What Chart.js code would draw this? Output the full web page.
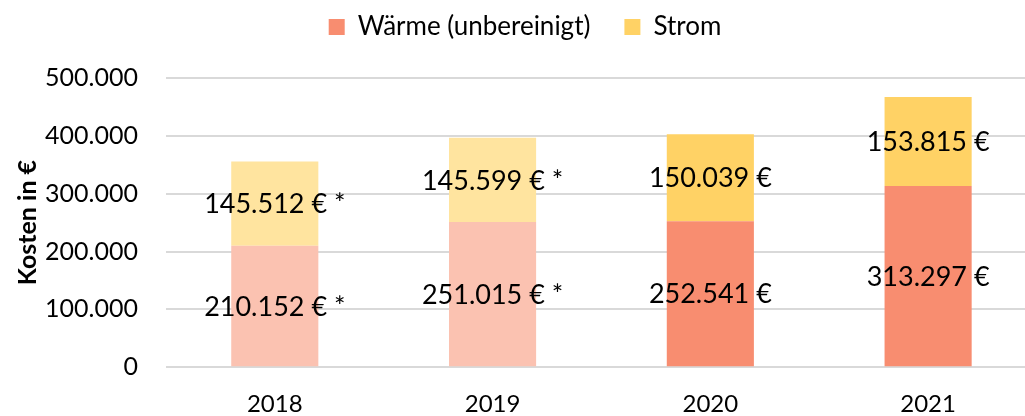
<!DOCTYPE html>
<html lang="de">
<head>
<meta charset="utf-8">
<title>Kosten Wärme und Strom</title>
<script src="https://cdn.jsdelivr.net/npm/chart.js@4/dist/chart.umd.min.js"></script>
<style>
  html, body { margin: 0; padding: 0; background: #fff; overflow: hidden; }
  #wrap { position: relative; width: 1037px; height: 416px; }
</style>
</head>
<body>
<div id="wrap"><canvas id="costChart"></canvas></div>
<script>
// Chart data
const years = ["2018", "2019", "2020", "2021"];
const waerme = [210152, 251015, 252541, 313297];
const strom = [145512, 145599, 150039, 153815];
// years marked with * (lighter bars)
const estimated = [true, true, false, false];

const waermeColors = ["#FBC2B1", "#FBC2B1", "#F88D70", "#F88D70"];
const stromColors = ["#FFE49F", "#FFE49F", "#FFD265", "#FFD265"];

// German thousands separator
function fmt(value) {
  return String(Math.round(value)).replace(/\B(?=(\d{3})+(?!\d))/g, ".");
}

// Draw value labels centered in each bar segment
const segmentLabels = {
  id: "segmentLabels",
  afterDatasetsDraw(chart) {
    const ctx = chart.ctx;
    ctx.save();
    ctx.font = "27px Lato";
    ctx.fillStyle = "#000";
    ctx.textAlign = "center";
    ctx.textBaseline = "middle";
    chart.data.datasets.forEach(function (ds, i) {
      const meta = chart.getDatasetMeta(i);
      meta.data.forEach(function (bar, j) {
        const text = fmt(ds.data[j]) + " €" + (estimated[j] ? " *" : "");
        const y = (bar.y + bar.base) / 2;
        ctx.fillText(text, bar.x, y + 1);
      });
    });
    ctx.restore();
  },
};

// Extra space below the legend
const legendGap = {
  id: "legendGap",
  beforeInit(chart) {
    const origFit = chart.legend.fit;
    chart.legend.fit = function () {
      origFit.bind(chart.legend)();
      this.height += 28;
    };
  },
};

new Chart(document.getElementById("costChart"), {
  type: "bar",
  data: {
    labels: years,
    datasets: [
      {
        label: "Wärme (unbereinigt)",
        data: waerme,
        backgroundColor: waermeColors,
        barPercentage: 0.8,
        categoryPercentage: 0.5,
      },
      {
        label: "Strom",
        data: strom,
        backgroundColor: stromColors,
        barPercentage: 0.8,
        categoryPercentage: 0.5,
      },
    ],
  },
  options: {
    responsive: true,
    maintainAspectRatio: false,
    animation: false,
    layout: {
      padding: { top: -20, right: 0, bottom: -18, left: 13 },
    },
    plugins: {
      legend: {
        position: "top",
        labels: {
          color: "#000",
          font: { family: "Lato", size: 26 },
          boxWidth: 16,
          boxHeight: 16,
          padding: 34,
          generateLabels: function (chart) {
            return chart.data.datasets.map(function (ds, i) {
              return {
                text: ds.label,
                fillStyle: i === 0 ? "#F88D70" : "#FFD265",
                strokeStyle: "rgba(0,0,0,0)",
                lineWidth: 0,
                datasetIndex: i,
              };
            });
          },
        },
      },
      tooltip: { enabled: false },
    },
    scales: {
      x: {
        stacked: true,
        grid: { display: false },
        border: { display: false },
        ticks: {
          color: "#000",
          font: { family: "Lato", size: 24 },
          padding: 15,
        },
      },
      y: {
        stacked: true,
        min: 0,
        max: 500000,
        grid: { color: "#D9D9D9", lineWidth: 2, drawTicks: false },
        border: { display: false },
        ticks: {
          stepSize: 100000,
          color: "#000",
          font: { family: "Lato", size: 25 },
          padding: 28,
          callback: function (value) {
            return fmt(value);
          },
        },
        title: {
          display: true,
          text: "Kosten in €",
          color: "#000",
          font: { family: "Lato", size: 25, weight: "bold" },
          padding: { top: 0, bottom: -26 },
        },
      },
    },
  },
  plugins: [segmentLabels, legendGap],
});
</script>
</body>
</html>
